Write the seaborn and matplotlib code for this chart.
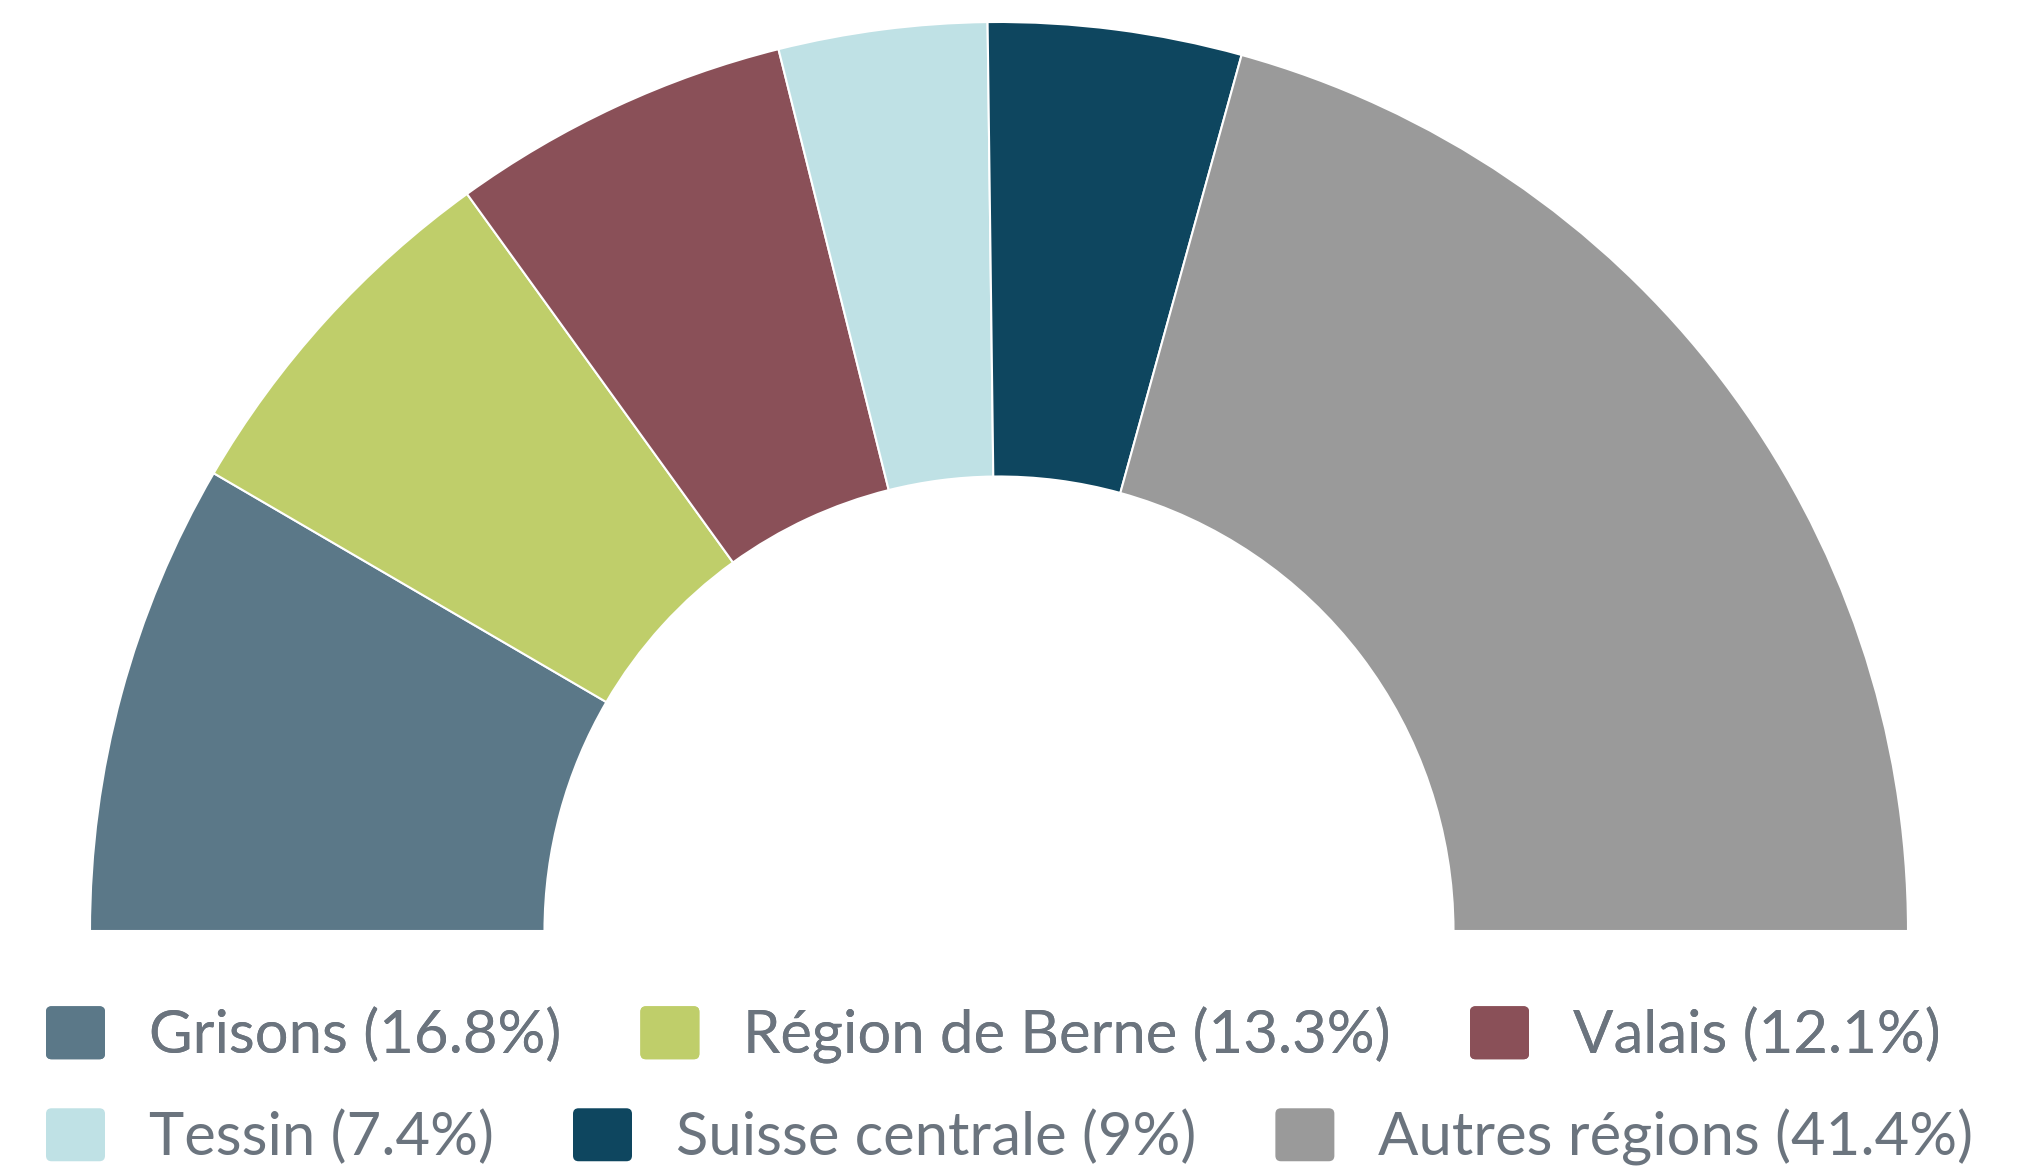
import matplotlib
matplotlib.use("Agg")
import matplotlib.pyplot as plt
import seaborn as sns
from matplotlib.patches import Patch, FancyBboxPatch
from matplotlib.legend_handler import HandlerPatch

# --- data ---
regions = ["Grisons", "Région de Berne", "Valais", "Tessin", "Suisse centrale", "Autres régions"]
shares = [16.8, 13.3, 12.1, 7.4, 9, 41.4]
share_labels = ["16.8%", "13.3%", "12.1%", "7.4%", "9%", "41.4%"]
colors = ["#5b7888", "#bfce6a", "#8a5058", "#bfe1e5", "#0e465f", "#9a9a9a"]

TEXT_COLOR = "#6b747e"
W, H, DPI = 2022, 1170, 100

sns.set_theme(style="white")
plt.rcParams["font.family"] = ["Lato", "DejaVu Sans"]


class HandlerRoundSquare(HandlerPatch):
    def create_artists(self, legend, orig_handle, xdescent, ydescent,
                       width, height, fontsize, trans):
        p = FancyBboxPatch((-xdescent, -ydescent), width, height,
                           boxstyle="round,pad=0,rounding_size=4",
                           facecolor=orig_handle.get_facecolor(),
                           edgecolor="none", transform=trans)
        return [p]


fig = plt.figure(figsize=(W / DPI, H / DPI), dpi=DPI)
ax = fig.add_axes([0, 0, 1, 1])

# half donut: the bottom half is an invisible slice
total = sum(shares)
wedges, _ = ax.pie(shares + [total], colors=colors + ["white"],
                   startangle=180, counterclock=False, radius=1,
                   wedgeprops=dict(width=0.5, edgecolor="white", linewidth=1.5))
wedges[-1].set_visible(False)

# place the centre at (999, 931) px from top-left, radius 909 px
cx, cy, r = 999, 931, 909
ax.set_xlim(-cx / r, (W - cx) / r)
ax.set_ylim(-(H - cy) / r, cy / r)
ax.set_aspect("auto")
ax.axis("off")

labels = [f"{n} ({s})" for n, s in zip(regions, share_labels)]
handles = [Patch(facecolor=c) for c in colors]

fs = 43
fs_px = fs * DPI / 72
leg_kw = dict(ncol=3, frameon=False, fontsize=fs, labelcolor=TEXT_COLOR,
              handlelength=59 / fs_px, handleheight=59 / fs_px,
              handletextpad=44 / fs_px, columnspacing=79 / fs_px,
              borderpad=0, borderaxespad=0,
              loc="center left", handler_map={Patch: HandlerRoundSquare()})

leg1 = fig.legend(handles[:3], labels[:3], bbox_to_anchor=(46 / W, 1 - 1035 / H), **leg_kw)
fig.add_artist(leg1)
fig.legend(handles[3:], labels[3:], bbox_to_anchor=(46 / W, 1 - 1137 / H), **leg_kw)

fig.savefig("out.png", dpi=DPI, facecolor="white")
